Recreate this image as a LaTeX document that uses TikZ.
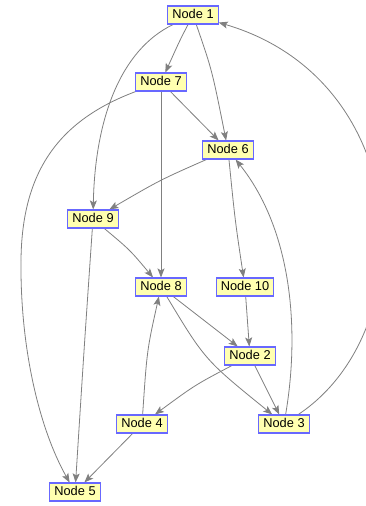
\documentclass[tikz,border=0pt]{standalone}
\usepackage{fontspec}
\setmainfont{Liberation Sans}
\usetikzlibrary{arrows.meta}
\pgfdeclarelayer{edges}
\pgfsetlayers{edges,main}
\definecolor{nodefill}{RGB}{255,255,176}
\definecolor{nodeline}{RGB}{104,104,255}
\definecolor{edgegray}{RGB}{128,128,128}
\tikzset{
  gnode/.style={draw=nodeline, fill=nodefill, line width=1.1pt,
    font=\fontsize{12.8}{14}\selectfont, text=black,
    inner xsep=4.6pt, inner ysep=0pt, text height=9.2pt, text depth=2.6pt,
    minimum height=18pt},
  link/.style={draw=edgegray, line width=0.8pt},
  edge/.style={link, -{Stealth[length=9pt,width=7pt,inset=2pt]}},
}
\begin{document}
\begin{tikzpicture}[x=1pt,y=-1pt]
  \useasboundingbox (0,0) rectangle (366,506);
  \clip (0,0) rectangle (366,506);

  \node[gnode] (n1) at (193,15) {Node 1};
  \node[gnode] (n7) at (161,82) {Node 7};
  \node[gnode] (n6) at (228,150) {Node 6};
  \node[gnode] (n9) at (93,219) {Node 9};
  \node[gnode] (n8) at (161,287) {Node 8};
  \node[gnode] (n10) at (245,287) {Node 10};
  \node[gnode] (n2) at (250,356) {Node 2};
  \node[gnode] (n3) at (284,424) {Node 3};
  \node[gnode] (n4) at (142,424) {Node 4};
  \node[gnode] (n5) at (75,492) {Node 5};

  % bend point of the long connector on the left
  \coordinate (w75) at (21,260);

  \begin{pgfonlayer}{edges}
    \fill[white] (0,0) rectangle (366,506);
    \draw[edge] (n1) .. controls (180,40) .. (n7);
    \draw[edge] (n1) .. controls (212,70) .. (n6);
    \draw[edge] (n1) .. controls (120,50) and (95,120) .. (n9);
    \draw[edge] (n3) .. controls (425,330) and (415,80) .. (n1);
    \draw[edge] (n7) -- (n6);
    \draw[edge] (n7) -- (n8);
    \draw[link] (n7) .. controls (60,120) and (22,170) .. (w75);
    \draw[edge] (w75) .. controls (20,350) and (40,430) .. (n5);
    \draw[edge] (n6) .. controls (160,180) .. (n9);
    \draw[edge] (n6) .. controls (235,220) .. (n10);
    \draw[edge] (n9) .. controls (130,250) .. (n8);
    \draw[edge] (n9) .. controls (84,350) .. (n5);
    \draw[edge] (n8) -- (n2);
    \draw[edge] (n8) .. controls (205,360) .. (n3);
    \draw[edge] (n10) -- (n2);
    \draw[edge] (n2) .. controls (195,385) .. (n4);
    \draw[edge] (n2) -- (n3);
    \draw[edge] (n4) .. controls (147,350) .. (n8);
    \draw[edge] (n4) -- (n5);
    \draw[edge] (n3) .. controls (300,330) and (292,230) .. (n6);
  \end{pgfonlayer}
\end{tikzpicture}
\end{document}
